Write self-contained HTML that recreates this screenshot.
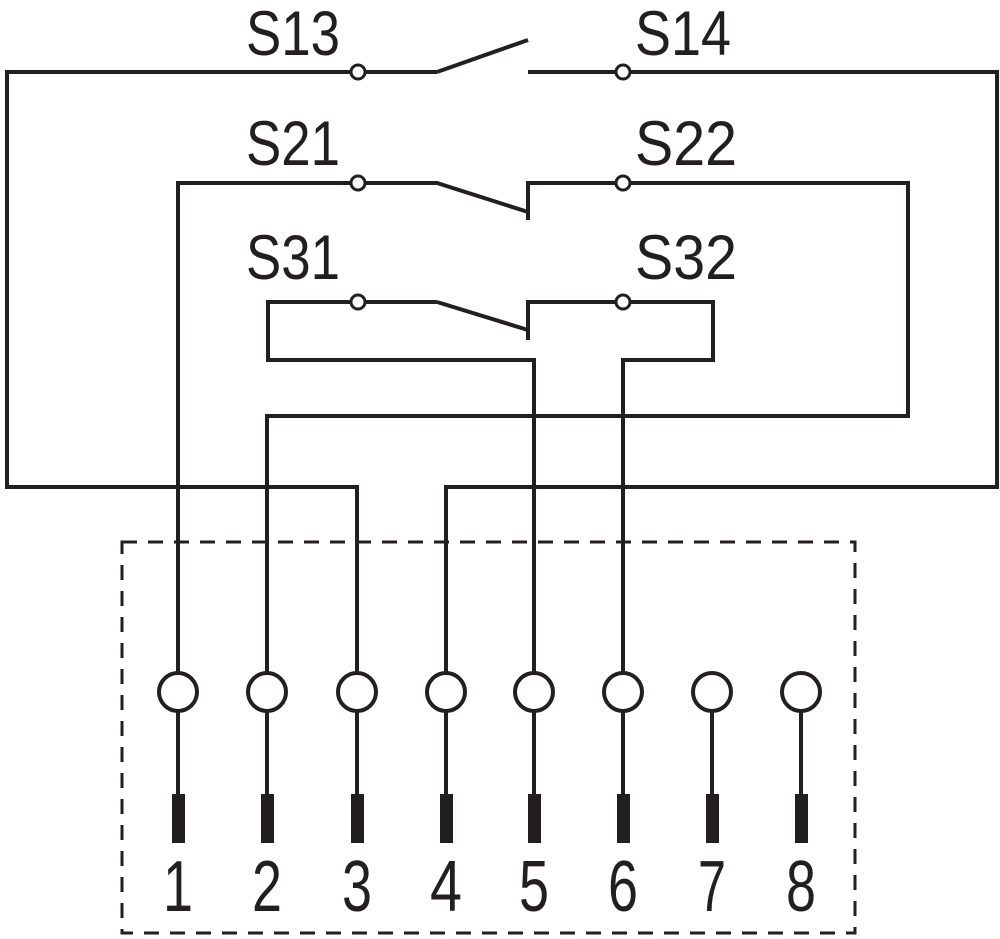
<!DOCTYPE html>
<html><head><style>html,body{margin:0;padding:0;background:#fff}svg{display:block}</style></head>
<body>
<svg width="1000" height="939" viewBox="0 0 1000 939" xmlns="http://www.w3.org/2000/svg">
<g fill="none" stroke="#231f20" stroke-width="4" stroke-linejoin="miter">
<rect x="122" y="542" width="733" height="391" stroke-width="3" stroke-dasharray="15 11"/>
<polyline points="437,72 7,72 7,487 357,487 357,674"/>
<line x1="437" y1="72" x2="528" y2="40"/>
<polyline points="528,72 997,72 997,487 446,487 446,674"/>
<polyline points="178,674 178,183 437,183 528,212"/>
<polyline points="528,220 528,183 908,183 908,416 267,416 267,674"/>
<polyline points="437,302 268,302 268,360 534,360 534,674"/>
<line x1="437" y1="302" x2="528" y2="330"/>
<polyline points="528,340 528,302 713,302 713,360 623,360 623,674"/>
<line x1="178" y1="710" x2="178" y2="800"/><line x1="267" y1="710" x2="267" y2="800"/>
<line x1="357" y1="710" x2="357" y2="800"/><line x1="446" y1="710" x2="446" y2="800"/>
<line x1="534" y1="710" x2="534" y2="800"/><line x1="623" y1="710" x2="623" y2="800"/>
<line x1="712" y1="710" x2="712" y2="800"/><line x1="801" y1="710" x2="801" y2="800"/>
</g>
<g fill="#fff" stroke="#231f20" stroke-width="4">
<circle cx="178" cy="692" r="19"/><circle cx="267" cy="692" r="19"/><circle cx="357" cy="692" r="19"/><circle cx="446" cy="692" r="19"/>
<circle cx="534" cy="692" r="19"/><circle cx="623" cy="692" r="19"/><circle cx="712" cy="692" r="19"/><circle cx="801" cy="692" r="19"/>
<g stroke-width="3">
<circle cx="358" cy="72" r="7"/><circle cx="623" cy="72" r="7"/>
<circle cx="358" cy="183" r="7"/><circle cx="623" cy="183" r="7"/>
<circle cx="358" cy="302" r="7"/><circle cx="623" cy="302" r="7"/>
</g>
</g>
<g fill="#231f20">
<rect x="172" y="794" width="13" height="49"/><rect x="261" y="794" width="13" height="49"/>
<rect x="351" y="794" width="13" height="49"/><rect x="440" y="794" width="13" height="49"/>
<rect x="528" y="794" width="13" height="49"/><rect x="617" y="794" width="13" height="49"/>
<rect x="706" y="794" width="13" height="49"/><rect x="795" y="794" width="13" height="49"/>
</g>
<g fill="#231f20" font-family="Liberation Sans, sans-serif" font-size="72" text-anchor="middle">
<text x="178" y="911" textLength="30" lengthAdjust="spacingAndGlyphs">1</text>
<text x="267" y="911" textLength="30" lengthAdjust="spacingAndGlyphs">2</text>
<text x="357" y="911" textLength="30" lengthAdjust="spacingAndGlyphs">3</text>
<text x="446" y="911" textLength="32" lengthAdjust="spacingAndGlyphs">4</text>
<text x="534" y="911" textLength="30" lengthAdjust="spacingAndGlyphs">5</text>
<text x="623" y="911" textLength="30" lengthAdjust="spacingAndGlyphs">6</text>
<text x="712" y="911" textLength="28" lengthAdjust="spacingAndGlyphs">7</text>
<text x="801" y="911" textLength="30" lengthAdjust="spacingAndGlyphs">8</text>
</g>
<g fill="#231f20" font-family="Liberation Sans, sans-serif" font-size="63">
<text x="246" y="55" textLength="94" lengthAdjust="spacingAndGlyphs">S13</text>
<text x="635" y="55" textLength="96" lengthAdjust="spacingAndGlyphs">S14</text>
<text x="246" y="165" textLength="94" lengthAdjust="spacingAndGlyphs">S21</text>
<text x="635" y="165" textLength="102" lengthAdjust="spacingAndGlyphs">S22</text>
<text x="246" y="279" textLength="94" lengthAdjust="spacingAndGlyphs">S31</text>
<text x="635" y="279" textLength="102" lengthAdjust="spacingAndGlyphs">S32</text>
</g>
</svg>
</body></html>
